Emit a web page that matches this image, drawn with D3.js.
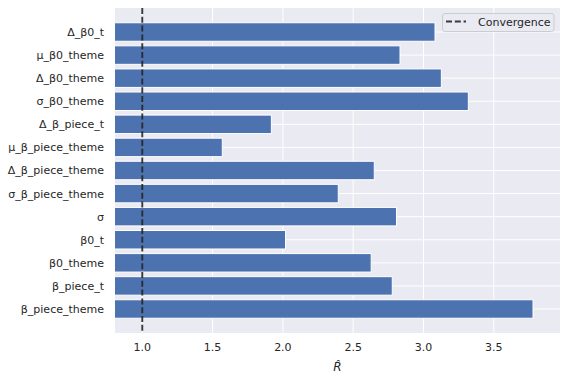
<!DOCTYPE html>
<html><head><meta charset="utf-8">
<script src="https://cdn.jsdelivr.net/npm/d3@7"></script>
<style>body{margin:0;background:#fff}svg{display:block}</style>
</head><body>
<svg id="c" width="567" height="382"></svg>
<script>
const categories = ["Δ_β0_t","μ_β0_theme","Δ_β0_theme","σ_β0_theme","Δ_β_piece_t","μ_β_piece_theme","Δ_β_piece_theme","σ_β_piece_theme","σ","β0_t","β0_theme","β_piece_t","β_piece_theme"];
const rhat = [3.082,2.833,3.127,3.319,1.918,1.569,2.650,2.394,2.808,2.019,2.628,2.778,3.779];
const xTicks = [1.0,1.5,2.0,2.5,3.0,3.5];
const convergence = 1.0;

const svg = d3.select("#c");
const L=115, R=560, T=8, B=333;
const x = d3.scaleLinear().domain([0.806,3.971]).range([L,R]);
const y = d3.scaleLinear().domain([-1.04,13.04]).range([T,B]);
const bh = 0.8;
const font = "DejaVu Sans, sans-serif";

svg.append("rect").attr("x",L).attr("y",T).attr("width",R-L).attr("height",B-T).attr("fill","#EAEAF2");
svg.append("clipPath").attr("id","pc").append("rect").attr("x",L).attr("y",T).attr("width",R-L).attr("height",B-T);

const g = svg.append("g").attr("clip-path","url(#pc)");
g.selectAll(".vg").data(xTicks).enter().append("line")
  .attr("x1",d=>x(d)).attr("x2",d=>x(d)).attr("y1",T).attr("y2",B)
  .attr("stroke","#fff").attr("stroke-width",1);
g.selectAll(".hg").data(categories).enter().append("line")
  .attr("x1",L).attr("x2",R).attr("y1",(d,i)=>y(i)).attr("y2",(d,i)=>y(i))
  .attr("stroke","#fff").attr("stroke-width",1);
g.selectAll(".bar").data(rhat).enter().append("rect")
  .attr("x",x(0)).attr("y",(d,i)=>y(i-bh/2))
  .attr("width",d=>x(d)-x(0)).attr("height",y(bh)-y(0))
  .attr("fill","#4C72B0").attr("stroke","#fff").attr("stroke-width",1);
g.append("line").attr("x1",x(convergence)).attr("x2",x(convergence)).attr("y1",T).attr("y2",B)
  .attr("stroke","#262626").attr("stroke-opacity",0.9).attr("stroke-width",1.9).attr("stroke-dasharray","6,2.8");

svg.selectAll(".yl").data(categories).enter().append("text")
  .attr("x",L-11).attr("y",(d,i)=>y(i)).attr("dy","0.36em")
  .attr("text-anchor","end").attr("font-family",font).attr("font-size",11).attr("fill","#262626")
  .text(d=>d);
svg.selectAll(".xl").data(xTicks).enter().append("text")
  .attr("x",d=>x(d)).attr("y",351).attr("text-anchor","middle")
  .attr("font-family",font).attr("font-size",11).attr("fill","#262626")
  .text(d=>d.toFixed(1));
svg.append("text").attr("x",(L+R)/2).attr("y",371).attr("text-anchor","middle")
  .attr("font-family",font).attr("font-size",12).attr("font-style","italic").attr("fill","#262626")
  .text("R\u0302");

const lg = svg.append("g");
lg.append("rect").attr("x",442.5).attr("y",13.5).attr("width",111.5).attr("height",18).attr("rx",2.5)
  .attr("fill","#EAEAF2").attr("fill-opacity",0.8).attr("stroke","#cccccc").attr("stroke-width",1);
lg.append("line").attr("x1",446).attr("x2",466).attr("y1",21.5).attr("y2",21.5)
  .attr("stroke","#262626").attr("stroke-opacity",0.9).attr("stroke-width",1.9).attr("stroke-dasharray","6,2.8");
lg.append("text").attr("x",478).attr("y",22).attr("dy","0.36em")
  .attr("font-family",font).attr("font-size",11).attr("fill","#262626").text("Convergence");
</script>
</body></html>
